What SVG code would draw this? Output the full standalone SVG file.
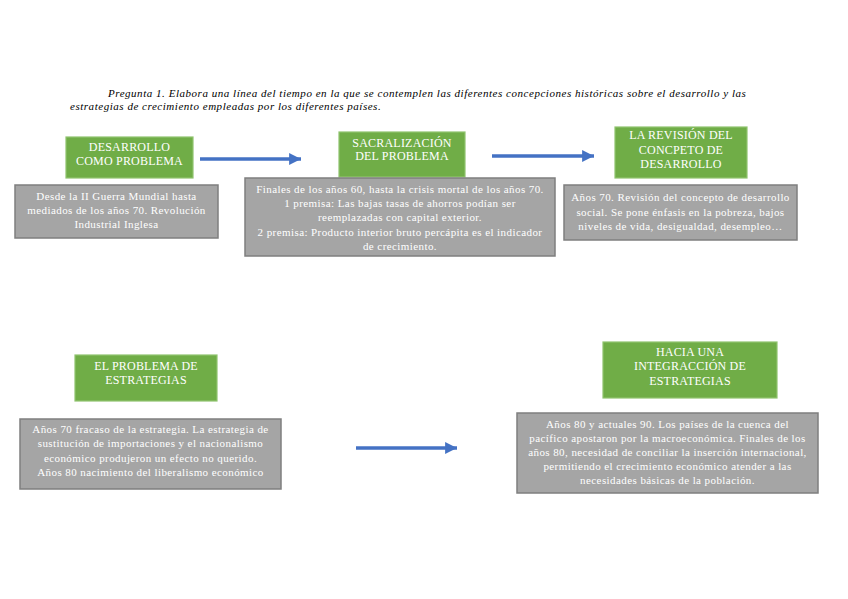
<svg xmlns="http://www.w3.org/2000/svg" width="848" height="599" viewBox="0 0 848 599">
<defs>
<style>
.t{font-family:"Liberation Serif","Times New Roman",serif;font-style:italic;font-size:11px;letter-spacing:0.53px;fill:#000}
.g{fill:#70AD47;stroke:#8FC36E;stroke-width:1.2}
.gy{fill:#A5A5A5;stroke:#7F7F7F;stroke-width:1.5}
.h{font-family:"Liberation Serif","Times New Roman",serif;font-size:12px;letter-spacing:0.2px;fill:#fff;text-anchor:middle}
.b{font-family:"Liberation Serif","Times New Roman",serif;font-size:11px;letter-spacing:0.42px;fill:#fff;text-anchor:middle}
.c{stroke:#4472C4;stroke-width:3.5;fill:none}
</style>
<marker id="ah" viewBox="0 0 10 10" refX="10" refY="5" markerWidth="3.6" markerHeight="3.4" orient="auto" markerUnits="strokeWidth">
<path d="M0,0L10,5L0,10z" fill="#4472C4"/>
</marker>
</defs>
<rect width="848" height="599" fill="#fff"/>
<g id="title">
<text class="t" x="108" y="97">Pregunta 1. Elabora una línea del tiempo en la que se contemplen las diferentes concepciones históricas sobre el desarrollo y las</text>
<text class="t" x="70" y="110">estrategias de crecimiento empleadas por los diferentes países.</text>
</g>
<g id="connectors">
<line class="c" x1="200" y1="159" x2="301" y2="159" marker-end="url(#ah)"/>
<line class="c" x1="492" y1="156" x2="594" y2="156" marker-end="url(#ah)"/>
<line class="c" x1="356" y1="448" x2="457" y2="448" marker-end="url(#ah)"/>
</g>
<g id="n1">
<rect class="g" x="66" y="137" width="127" height="41"/>
<text class="h" x="129.5" y="151">DESARROLLO</text>
<text class="h" x="129.5" y="165">COMO PROBLEMA</text>
</g>
<g id="d1">
<rect class="gy" x="15" y="185" width="203" height="53"/>
<text class="b" x="116.5" y="200">Desde la II Guerra Mundial hasta</text>
<text class="b" x="116.5" y="214">mediados de los años 70. Revolución</text>
<text class="b" x="116.5" y="228">Industrial Inglesa</text>
</g>
<g id="n2">
<rect class="g" x="339" y="132" width="126" height="45"/>
<text class="h" x="402" y="147">SACRALIZACIÓN</text>
<text class="h" x="402" y="160">DEL PROBLEMA</text>
</g>
<g id="d2">
<rect class="gy" x="245" y="178" width="310" height="78"/>
<text class="b" x="400" y="193">Finales de los años 60, hasta la crisis mortal de los años 70.</text>
<text class="b" x="400" y="207">1 premisa: Las bajas tasas de ahorros podían ser</text>
<text class="b" x="400" y="221">reemplazadas con capital exterior.</text>
<text class="b" x="400" y="236">2 premisa: Producto interior bruto percápita es el indicador</text>
<text class="b" x="400" y="250">de crecimiento.</text>
</g>
<g id="n3">
<rect class="g" x="615" y="127" width="132" height="51"/>
<text class="h" x="681" y="139">LA REVISIÓN DEL</text>
<text class="h" x="681" y="154">CONCPETO DE</text>
<text class="h" x="681" y="168">DESARROLLO</text>
</g>
<g id="d3">
<rect class="gy" x="564" y="185" width="233" height="55"/>
<text class="b" x="680.5" y="201">Años 70. Revisión del concepto de desarrollo</text>
<text class="b" x="680.5" y="216">social. Se pone énfasis en la pobreza, bajos</text>
<text class="b" x="680.5" y="230">niveles de vida, desigualdad, desempleo…</text>
</g>
<g id="n4">
<rect class="g" x="75" y="355" width="142" height="46"/>
<text class="h" x="146" y="370">EL PROBLEMA DE</text>
<text class="h" x="146" y="384">ESTRATEGIAS</text>
</g>
<g id="d4">
<rect class="gy" x="20" y="419" width="261" height="70"/>
<text class="b" x="150.5" y="433">Años 70 fracaso de la estrategia. La estrategia de</text>
<text class="b" x="150.5" y="447">sustitución de importaciones y el nacionalismo</text>
<text class="b" x="150.5" y="462">económico produjeron un efecto no querido.</text>
<text class="b" x="150.5" y="476">Años 80 nacimiento del liberalismo económico</text>
</g>
<g id="n5">
<rect class="g" x="603" y="342" width="174" height="56"/>
<text class="h" x="690" y="356">HACIA UNA</text>
<text class="h" x="690" y="370">INTEGRACCIÓN DE</text>
<text class="h" x="690" y="385">ESTRATEGIAS</text>
</g>
<g id="d5">
<rect class="gy" x="517" y="413" width="301" height="80"/>
<text class="b" x="667.5" y="428">Años 80 y actuales 90. Los países de la cuenca del</text>
<text class="b" x="667.5" y="442">pacífico apostaron por la macroeconómica. Finales de los</text>
<text class="b" x="667.5" y="456">años 80, necesidad de conciliar la inserción internacional,</text>
<text class="b" x="667.5" y="470">permitiendo el crecimiento económico atender a las</text>
<text class="b" x="667.5" y="484">necesidades básicas de la población.</text>
</g>
</svg>
